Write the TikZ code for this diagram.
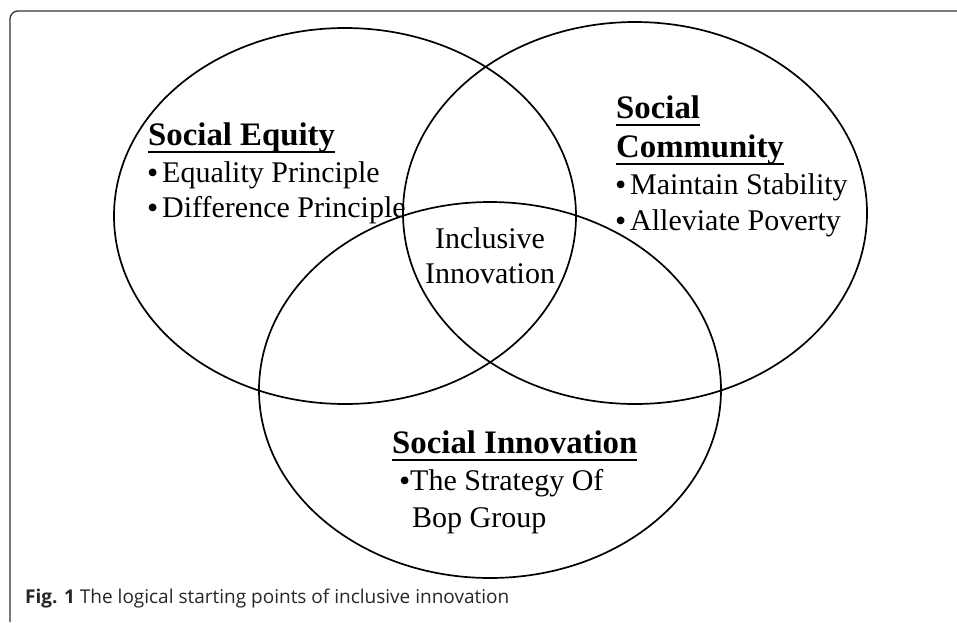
\documentclass[tikz,border=0pt]{standalone}
\usepackage{fontspec}
\setmainfont{Liberation Serif}
\newfontfamily\capfont{Open Sans}
\newcommand\ulh[1]{\setbox0\hbox{#1}\rlap{\rule[-8pt]{\wd0}{1.6pt}}\box0}
\newcommand\bul[1]{\makebox[#1][l]{\raisebox{-1.5pt}{\fontsize{32}{32}\selectfont •}}}
\begin{document}
\begin{tikzpicture}[x=1pt,y=-1pt,
  txt/.style={inner sep=0pt, anchor=base west, font=\fontsize{30}{33}\selectfont},
  ctxt/.style={inner sep=0pt, anchor=base, font=\fontsize{30}{33}\selectfont},
  head/.style={inner sep=0pt, anchor=base west, font=\fontsize{32.8}{36}\selectfont\bfseries},
  ring/.style={line width=1.7pt},
  frame/.style={line width=1.3pt, draw=black!80, rounded corners=8pt}]
\useasboundingbox (0,0) rectangle (957,622);
\draw[frame] (10,622) -- (10,11) -- (957,11);
\draw[ring] (345,216) ellipse [x radius=231pt, y radius=188pt];
\draw[ring] (635,213) ellipse [x radius=232pt, y radius=191pt];
\draw[ring] (490,390) ellipse [x radius=231pt, y radius=188pt];
% Social Equity
\node[head] (se) at (148,145) {\ulh{Social Equity}};
\node[txt] (se1) at (147,182) {\bul{15pt}Equality Principle};
\node[txt] (se2) at (147,217) {\bul{15pt}Difference Principle};
% Social Community
\node[head] (sc1) at (616,118) {\ulh{Social}};
\node[head] (sc2) at (616,157) {\ulh{Community}};
\node[txt] (sc3) at (615,194) {\bul{15pt}Maintain Stability};
\node[txt] (sc4) at (615,230) {\bul{15pt}Alleviate Poverty};
% Inclusive Innovation
\node[ctxt] (ii1) at (490,248) {Inclusive};
\node[ctxt] (ii2) at (490,283) {Innovation};
% Social Innovation
\node[head] (si) at (392,453) {\ulh{Social Innovation}};
\node[txt] (si1) at (399,490) {\bul{11pt}The Strategy Of};
\node[txt] (si2) at (412,527) {Bop Group};
% caption
\node[inner sep=0pt, anchor=base west, font=\capfont\fontsize{19}{22}\selectfont, text=black!85] (cap) at (25,603) {\textbf{Fig. 1} The logical starting points of inclusive innovation};
\end{tikzpicture}
\end{document}
